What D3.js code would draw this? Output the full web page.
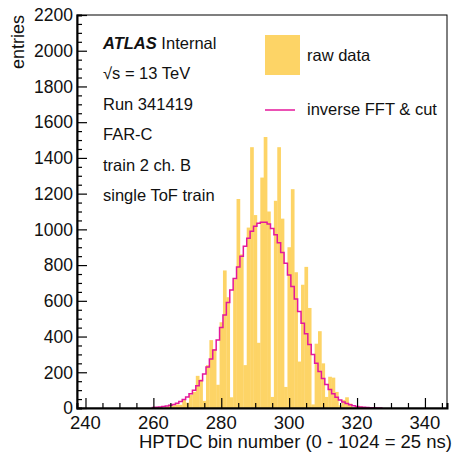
<!DOCTYPE html>
<html>
<head>
<meta charset="utf-8">
<script src="https://cdn.jsdelivr.net/npm/d3@7"></script>
<style>
  body { margin: 0; background: #fff; }
  svg text { font-family: "Liberation Sans", Arial, sans-serif; fill: #111; }
</style>
</head>
<body>
<div id="chart"></div>
<script>
// bin centres (HPTDC bin number), raw counts and the smoothed curve
var bins = [260,261,262,263,264,265,266,267,268,269,270,271,272,273,274,275,276,277,278,279,
            280,281,282,283,284,285,286,287,288,289,290,291,292,293,294,295,296,297,298,299,
            300,301,302,303,304,305,306,307,308,309,310,311,312,313,314,315,316,317,318,319,
            320,321,322,323,324,325,326,327];
var raw = [0,0,5,0,8,10,15,20,18,45,30,75,90,180,160,40,240,380,330,130,
           480,770,620,60,720,1170,860,240,1010,1460,1080,365,1290,1517,1100,62,1160,1460,1060,118,
           900,1225,760,260,690,790,560,20,360,430,250,62,175,170,90,15,45,60,25,5,
           10,8,0,5,0,0,0,0];
var smooth = [3,4,6,8,11,15,20,27,36,48,62,80,100,124,152,190,230,275,325,380,
              450,520,590,660,725,790,850,905,950,990,1018,1034,1040,1040,1030,1005,970,925,870,810,
              745,680,610,540,475,415,355,300,250,205,165,132,104,80,60,45,34,25,18,13,
              9,6,4,3,2,1,0,0];
var yTicks = [0,200,400,600,800,1000,1200,1400,1600,1800,2000,2200];
var xTicks = [240,260,280,300,320,340];
var infoLines = ["√s = 13 TeV", "Run 341419", "FAR-C", "train 2 ch. B", "single ToF train"];

var W = 456, H = 455;
var M = {left: 77, right: 447, top: 15, bottom: 408};

var svg = d3.select("#chart").append("svg")
    .attr("width", W)
    .attr("height", H);

var x = d3.scaleLinear().domain([237.5, 346.5]).range([M.left, M.right]);
var y = d3.scaleLinear().domain([0, 2200]).range([M.bottom, M.top]);

var yellow = "#fdd466";
var magenta = "#e4179b";

// histogram bars
svg.append("g").selectAll("rect")
    .data(bins)
    .enter().append("rect")
    .attr("x", function(d) { return x(d - 0.5); })
    .attr("width", function(d) { return x(d + 0.5) - x(d - 0.5) + 0.3; })
    .attr("y", function(d, i) { return y(raw[i]); })
    .attr("height", function(d, i) { return y(0) - y(raw[i]); })
    .attr("fill", yellow);

// step line
var pts = [];
bins.forEach(function(b, i) {
    pts.push([x(b - 0.5), y(smooth[i])]);
    pts.push([x(b + 0.5), y(smooth[i])]);
});
svg.append("path")
    .attr("d", d3.line()(pts))
    .attr("fill", "none")
    .attr("stroke", magenta)
    .attr("stroke-width", 1.5);

// frame
svg.append("rect")
    .attr("x", M.left).attr("y", M.top)
    .attr("width", M.right - M.left).attr("height", M.bottom - M.top)
    .attr("fill", "none").attr("stroke", "#000").attr("stroke-width", 1);

// y axis, ticks drawn inward
var yAxis = d3.axisRight(y)
    .tickValues(d3.range(0, 2201, 50))
    .tickSize(5)
    .tickFormat("");
var gy = svg.append("g").attr("transform", "translate(" + M.left + ",0)").call(yAxis);
gy.select(".domain").attr("stroke-width", 2);
gy.selectAll(".tick line")
    .attr("x2", function(d) { return d % 200 === 0 ? 10 : 5; })
    .attr("stroke-width", 1.2);
svg.append("g").selectAll("text")
    .data(yTicks)
    .enter().append("text")
    .attr("x", M.left - 4)
    .attr("y", function(d) { return y(d); })
    .attr("dy", "0.36em")
    .style("text-anchor", "end")
    .style("font-size", "17.5px")
    .text(function(d) { return d; });

// x axis, ticks drawn inward
var xAxis = d3.axisTop(x)
    .tickValues(d3.range(240, 346, 5))
    .tickSize(5)
    .tickFormat("");
var gx = svg.append("g").attr("transform", "translate(0," + M.bottom + ")").call(xAxis);
gx.select(".domain").attr("stroke-width", 2);
gx.selectAll(".tick line")
    .attr("y2", function(d) { return d % 20 === 0 ? -10 : -5; })
    .attr("stroke-width", 1.2);
svg.append("g").selectAll("text")
    .data(xTicks)
    .enter().append("text")
    .attr("x", function(d) { return x(d); })
    .attr("y", M.bottom + 21)
    .style("text-anchor", "middle")
    .style("font-size", "18.5px")
    .text(function(d) { return d; });

// axis titles
svg.append("text")
    .attr("x", M.right + 5)
    .attr("y", 448)
    .style("text-anchor", "end")
    .style("font-size", "18.5px")
    .text("HPTDC bin number (0 - 1024 = 25 ns)");
svg.append("text")
    .attr("transform", "translate(24," + M.top + ") rotate(-90)")
    .style("text-anchor", "end")
    .style("font-size", "18px")
    .text("entries");

// label block
var lab = svg.append("text").attr("x", 103).attr("y", 49).style("font-size", "16.5px");
lab.append("tspan").style("font-weight", "bold").style("font-style", "italic").text("ATLAS");
lab.append("tspan").text(" Internal");
svg.append("g").selectAll("text")
    .data(infoLines)
    .enter().append("text")
    .attr("x", 103)
    .attr("y", function(d, i) { return 79 + i * 30.5; })
    .style("font-size", "16.5px")
    .text(function(d) { return d; });

// legend
svg.append("rect")
    .attr("x", 265).attr("y", 35)
    .attr("width", 35).attr("height", 40)
    .attr("fill", yellow);
svg.append("text").attr("x", 307).attr("y", 61).style("font-size", "16.5px").text("raw data");
svg.append("line")
    .attr("x1", 265).attr("x2", 295)
    .attr("y1", 110).attr("y2", 110)
    .attr("stroke", magenta).attr("stroke-width", 1.5);
svg.append("text").attr("x", 307).attr("y", 115).style("font-size", "16.5px").text("inverse FFT & cut");
</script>
</body>
</html>
